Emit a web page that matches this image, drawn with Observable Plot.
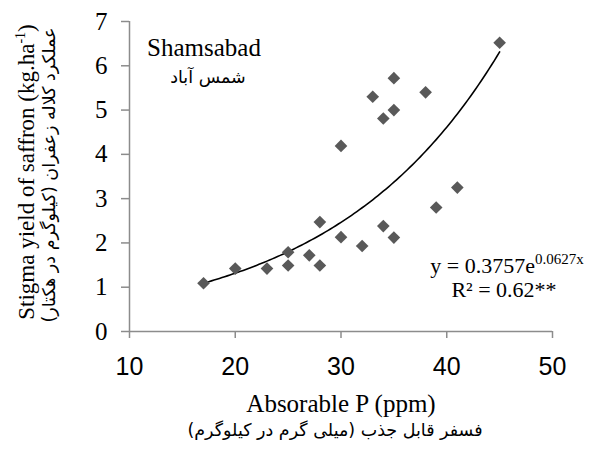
<!DOCTYPE html>
<html>
<head>
<meta charset="utf-8">
<script src="https://cdn.jsdelivr.net/npm/d3@7"></script>
<script src="https://cdn.jsdelivr.net/npm/@observablehq/plot@0.6"></script>
<style>
  html, body { margin: 0; padding: 0; background: #fff; }
  #chart { width: 590px; height: 452px; position: relative; }
</style>
</head>
<body>
<div id="chart"></div>
<script>
// Observed data: absorbable P (ppm) vs stigma yield (kg/ha)
const phosphorus = [17, 20, 23, 25, 25, 27, 28, 28, 30, 32, 34, 35, 39, 41, 30, 33, 34, 35, 35, 38, 45];
const yieldVals  = [1.09, 1.42, 1.42, 1.79, 1.49, 1.72, 2.47, 1.49, 2.13, 1.93, 2.38, 2.12, 2.80, 3.25, 4.19, 5.30, 4.81, 5.72, 5.00, 5.40, 6.52];

// Exponential trendline shown on the chart: y = a * e^(b x)
const trendA = 0.3757;
const trendB = 0.0627;
const trendRange = [17, 45];

const xTicks = [10, 20, 30, 40, 50];
const yTicks = [0, 1, 2, 3, 4, 5, 6, 7];

const points = phosphorus.map((p, i) => ({p, y: yieldVals[i]}));
const trend = d3.range(trendRange[0], trendRange[1] + 0.001, 0.25).map(p => ({p, y: trendA * Math.exp(trendB * p)}));

const serif = "'Liberation Serif', 'Times New Roman', serif";
const sans = "'Liberation Sans', Arial, sans-serif";
const persian = "'DejaVu Sans', 'Noto Sans', sans-serif";
const axisGray = "#8c8c8c";

const chart = Plot.plot({
  width: 590,
  height: 452,
  marginLeft: 129,
  marginRight: 38,
  marginTop: 21,
  marginBottom: 121,
  style: {background: "white", overflow: "visible"},
  x: {domain: [10, 50], ticks: xTicks},
  y: {domain: [0, 7], ticks: yTicks},
  marks: [
    Plot.ruleX([10], {stroke: axisGray, strokeWidth: 1.5}),
    Plot.ruleY([0], {stroke: axisGray, strokeWidth: 1.5}),
    Plot.axisY(yTicks, {tickSize: 8, stroke: axisGray, strokeWidth: 1.5, text: null, label: null}),
    Plot.axisY(yTicks, {tickSize: 0, tickPadding: 22, fill: "#000", fontFamily: serif, fontSize: 25, label: null}),
    Plot.axisX(xTicks, {tickSize: 7, stroke: axisGray, strokeWidth: 1.5, text: null, label: null}),
    Plot.axisX(xTicks, {tickSize: 0, tickPadding: 26, fill: "#000", fontFamily: sans, fontSize: 25, label: null}),
    Plot.line(trend, {x: "p", y: "y", stroke: "#000", strokeWidth: 1.6}),
    Plot.dot(points, {x: "p", y: "y", symbol: "diamond2", r: 5.7, fill: "#595959", stroke: "none"})
  ]
});
document.getElementById("chart").appendChild(chart);

const svg = d3.select(chart.tagName.toLowerCase() === "svg" ? chart : chart.querySelector("svg"));

function addText(x, y, str, opts) {
  const t = svg.append("text")
    .attr("x", x).attr("y", y)
    .attr("text-anchor", opts.anchor || "middle")
    .attr("font-family", opts.family)
    .attr("font-size", opts.size)
    .attr("fill", "#000");
  if (opts.rotate) t.attr("transform", `rotate(-90 ${x} ${y})`);
  if (opts.dir) t.attr("direction", opts.dir);
  t.text(str);
  return t;
}

// Site annotation
addText(204, 56, "Shamsabad", {family: serif, size: 25});
addText(208, 83, "شمس آباد", {family: persian, size: 17.5, dir: "rtl"});

// Equation
const eq = svg.append("text")
  .attr("x", 507).attr("y", 273)
  .attr("text-anchor", "middle")
  .attr("font-family", serif).attr("font-size", 22).attr("fill", "#000");
eq.append("tspan").text("y = 0.3757e");
eq.append("tspan").attr("font-size", 15).attr("dy", -9).text("0.0627x");
addText(504, 297, "R² = 0.62**", {family: serif, size: 22});

// X axis titles
addText(341, 412, "Absorable P (ppm)", {family: serif, size: 25});
addText(335, 436, "فسفر قابل جذب (میلی گرم در کیلوگرم)", {family: persian, size: 17.5, dir: "rtl"});

// Y axis titles (rotated)
const yt = svg.append("text")
  .attr("x", 34).attr("y", 172)
  .attr("text-anchor", "middle")
  .attr("transform", "rotate(-90 34 172)")
  .attr("font-family", serif).attr("font-size", 23).attr("fill", "#000");
yt.append("tspan").text("Stigma yield of saffron (kg.ha");
yt.append("tspan").attr("font-size", 14).attr("dy", -9).text("-1");
yt.append("tspan").attr("dy", 9).text(")");
addText(55, 175, "عملکرد کلاله زعفران (کیلوگرم در هکتار)", {family: persian, size: 17.5, rotate: true, dir: "rtl"});
</script>
</body>
</html>
